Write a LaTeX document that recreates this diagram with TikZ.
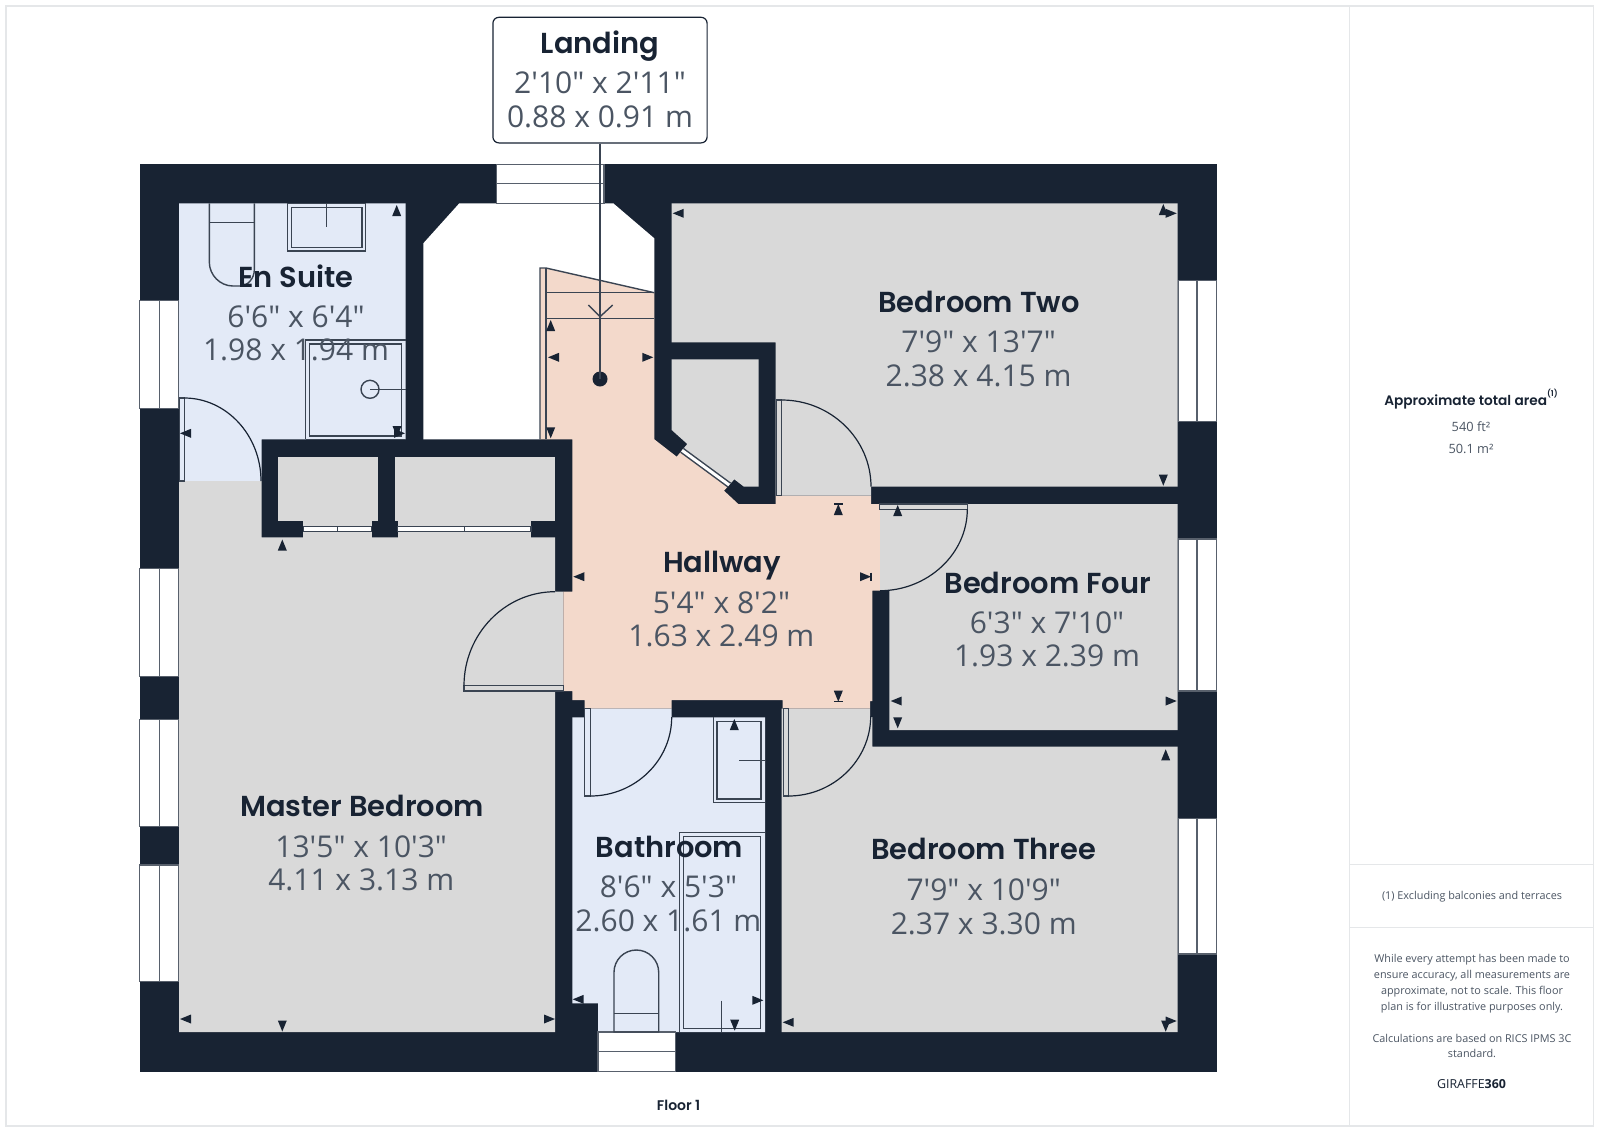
\documentclass[tikz,border=0pt]{standalone}
\usepackage{fontspec}
\newfontfamily\dimf{Open Sans}
\newfontfamily\titf{Poppins SemiBold}
\definecolor{wallc}{HTML}{182333}
\definecolor{greyf}{HTML}{D9D9D9}
\definecolor{bluef}{HTML}{E3EAF7}
\definecolor{peachf}{HTML}{F3D9CB}
\definecolor{linec}{HTML}{3A4452}
\definecolor{txtc}{HTML}{4B5563}
\definecolor{panelc}{HTML}{E5E7E9}
\newcommand\arU[2]{\fill[wallc] (#1,#2) -- ({#1-4.5},{#2+11}) -- ({#1+4.5},{#2+11}) -- cycle;}
\newcommand\arD[2]{\fill[wallc] (#1,#2) -- ({#1-4.5},{#2-11}) -- ({#1+4.5},{#2-11}) -- cycle;}
\newcommand\arL[2]{\fill[wallc] (#1,#2) -- ({#1+11},{#2-4.5}) -- ({#1+11},{#2+4.5}) -- cycle;}
\newcommand\arR[2]{\fill[wallc] (#1,#2) -- ({#1-11},{#2-4.5}) -- ({#1-11},{#2+4.5}) -- cycle;}
\tikzset{
  fix/.style={draw=linec,line width=.7pt},
  winbox/.style={fill=white,draw=linec!85,line width=.6pt},
  leaf/.style={fill=greyf,draw=linec,line width=.6pt},
  swing/.style={draw=wallc,line width=.6pt},
  titletxt/.style={font=\titf\fontsize{14.45}{16}\selectfont,text=wallc,inner sep=0pt,text height=10.6pt,text depth=0pt},
  dimtxt/.style={font=\dimf\fontsize{15}{16}\selectfont,text=txtc,inner sep=0pt,text height=11pt,text depth=0pt},
  smalltxt/.style={font=\dimf\fontsize{5.42}{7}\selectfont,text=txtc,inner sep=0pt,text height=4.2pt,text depth=0pt},
}
\begin{document}
\begin{tikzpicture}[x=0.5pt,y=-0.5pt]
\useasboundingbox (0,0) rectangle (1600,1131);
\fill[white] (0,0) rectangle (1600,1131);
% panel
\draw[panelc,line width=.6pt] (6,6) rectangle (1593.5,1126);
\draw[panelc,line width=.6pt] (1349.5,6) -- (1349.5,1126);
\draw[panelc,line width=.6pt] (1349.5,864.5) -- (1593.5,864.5);
\draw[panelc,line width=.6pt] (1349.5,927.5) -- (1593.5,927.5);
% building mass
\fill[wallc] (139.5,164) rectangle (1217,1072);
% floors
\fill[bluef] (179,203.3) -- (405.7,203.3) -- (405.7,439.3) -- (261.7,439.3) -- (261.7,481) -- (179,481) -- cycle;
\fill[greyf] (179,481) -- (261.7,481) -- (261.7,537.3) -- (555,537.3) -- (555,591.7) -- (563.3,591.7) -- (563.3,691) -- (555,691) -- (555,1032) -- (179,1032) -- cycle;
\fill[greyf] (278.3,456.7) rectangle (378.3,520.7);
\fill[greyf] (395,456.7) rectangle (555,520.7);
\fill[greyf] (303.3,520) rectangle (371.7,537.5);
\fill[greyf] (397.7,520) rectangle (531,537.5);
\fill[white] (423.3,243.3) -- (459.3,203.3) -- (613.3,203.3) -- (654.3,238.3) -- (654.3,292.7) -- (546,268) -- (540,268) -- (540,439.3) -- (423.3,439.3) -- cycle;
\fill[peachf] (540,268) -- (546,268) -- (654.3,292.7) -- (654.3,439.3) -- (676.7,456.7) -- (682,450.3) -- (729.2,485) -- (724,490.7) -- (738.3,504) -- (775.7,504) -- (775.7,495.7) -- (871,495.7) -- (871,504) -- (880,504) -- (880,590.7) -- (872.3,590.7) -- (872.3,701) -- (870,701) -- (870,708.7) -- (782.7,708.7) -- (782.7,700) -- (671.7,700) -- (671.7,708.7) -- (584.7,708.7) -- (584.7,700) -- (572.3,700) -- (572.3,691) -- (563.3,691) -- (563.3,591.7) -- (572.3,591.7) -- (572.3,439.3) -- (540,439.3) -- cycle;
\fill[greyf] (671.7,203.3) -- (1177.5,203.3) -- (1177.5,486.7) -- (871,486.7) -- (871,495.7) -- (775.7,495.7) -- (775.7,342.3) -- (671.7,342.3) -- cycle;
\fill[greyf] (671.7,359.3) -- (758.7,359.3) -- (758.7,486.7) -- (744,486.7) -- (734.3,479.3) -- (729.2,485) -- (682,450.3) -- (687.3,444) -- (671.7,430) -- cycle;
\fill[greyf] (880,504) -- (1177.5,504) -- (1177.5,730) -- (889.3,730) -- (889.3,590.7) -- (880,590.7) -- cycle;
\fill[greyf] (781.7,708.7) -- (870,708.7) -- (870,717) -- (872.3,717) -- (872.3,746.7) -- (1177.5,746.7) -- (1177.5,1032) -- (781.7,1032) -- cycle;
\fill[bluef] (572.3,717.3) -- (584.7,717.3) -- (584.7,708.7) -- (671.7,708.7) -- (671.7,717.3) -- (765,717.3) -- (765,1032) -- (598,1032) -- (598,1003.3) -- (572.3,1003.3) -- cycle;
% windows
\foreach \ya/\yb in {300.7/408.3,568.3/676.7,719.4/826.5,865/981.6}{
  \draw[winbox] (139.8,\ya) rectangle (178.7,\yb);
  \draw[linec!85,line width=.6pt] (159.3,\ya) -- (159.3,\yb);
}
\foreach \ya/\yb in {280.6/421.4,539/691,818.4/954}{
  \draw[winbox] (1178.3,\ya) rectangle (1216.5,\yb);
  \draw[linec!85,line width=.6pt] (1197,\ya) -- (1197,\yb);
}
\draw[winbox] (496.7,164.3) rectangle (604,203.3);
\draw[linec!85,line width=.6pt] (496.7,183.5) -- (604,183.5);
\draw[winbox] (598,1032) rectangle (675.3,1071.5);
\draw[linec!85,line width=.6pt] (598,1051.7) -- (675.3,1051.7);
% sliding doors and glazing
\draw[fill=white,draw=linec,line width=.6pt] (303.3,526.7) rectangle (371.7,531.5);
\draw[linec,line width=.6pt] (337.3,526.7) -- (337.3,531.5);
\draw[fill=white,draw=linec,line width=.6pt] (397.7,526.7) rectangle (531,531.5);
\draw[linec,line width=.6pt] (464.3,526.7) -- (464.3,531.5);
\draw[linec,line width=3pt] (682,450.3) -- (729.2,485);
\draw[white,line width=1.5pt] (682,450.3) -- (729.2,485);
% stairs
\draw[fix] (540,439.3) -- (540,268) -- (546,268) -- (654.3,292.7);
\draw[fix] (546,268) -- (546,439.3);
\draw[fix] (546,292.7) -- (654.3,292.7);
\draw[fix] (546,318.3) -- (654.3,318.3);
\draw[fix] (588.3,305) -- (600,316.7) -- (612.7,305);
% en suite fixtures
\draw[fix] (209.3,203.3) -- (209.3,262) .. controls (209.3,275) and (220,286) .. (233,286) -- (240,286) .. controls (248,286) and (254.3,278) .. (254.3,270) -- (254.3,203.3);
\draw[fix] (209.3,222.3) -- (254.3,222.3);
\draw[fix] (287.7,203.3) rectangle (365.7,251);
\draw[fix] (291.3,207.3) rectangle (362,247.7);
\draw[fix] (326.7,203.3) -- (326.7,227.3);
\draw[fix] (305.7,439.3) -- (305.7,340) -- (405.7,340);
\draw[fix] (405.7,439.3) -- (305.7,439.3);
\draw[fix] (309.3,344) rectangle (401.7,436);
\draw[fix] (370,389.3) circle (9);
\draw[fix] (370,389.3) -- (405.7,389.3);
% bathroom fixtures
\draw[fix] (713.3,717.3) -- (713.3,802.7) -- (765,802.7);
\draw[fix] (717,721.3) rectangle (761,799);
\draw[fix] (739,760.3) -- (765,760.3);
\draw[fix] (679.3,1032) -- (679.3,832.7) -- (765,832.7);
\draw[fix] (683.3,836.7) rectangle (760.7,1028.3);
\draw[fix] (721.7,1000.7) -- (721.7,1032);
\draw[fix] (614,1032) -- (614,972.3) .. controls (614,960) and (624,950) .. (636.3,950) .. controls (648.6,950) and (658.7,960) .. (658.7,972.3) -- (658.7,1032) -- cycle;
\draw[fix] (614,1013.3) -- (658.7,1013.3);
% doors
\draw[leaf,fill=bluef] (179.3,398) rectangle (184.3,481);
\draw[swing] (184.3,398) .. controls (226.5,398) and (261,435.4) .. (261,481);
\draw[leaf] (776.7,400) rectangle (781.7,495.7);
\draw[swing] (781.7,400) .. controls (830.8,400) and (871,439) .. (871,486.7);
\draw[leaf] (879.5,504) rectangle (967.3,509.3);
\draw[swing] (967.3,509.3) .. controls (967.3,554) and (927.5,590.7) .. (880,590.7);
\draw[leaf] (464,685.7) rectangle (563.3,691);
\draw[swing] (555,591.7) .. controls (505,591.7) and (464,634) .. (464,685.7);
\draw[leaf,fill=bluef] (584.7,708.7) rectangle (590.3,796);
\draw[swing] (590.3,796) .. controls (635,796) and (671.7,760.5) .. (671.7,717);
\draw[leaf] (783.3,708.7) rectangle (788.3,796);
\draw[swing] (788.3,796) .. controls (833.6,796) and (870.7,760) .. (870.7,716);
% measure ticks
\arU{396.7}{205}\arL{180}{433.3}\arR{405}{433.3}\arD{397}{437}
\arU{550.7}{320}\arL{548}{357.3}\arR{653.3}{357.3}\arD{550.7}{438.3}
\arL{573.3}{576.7}\arR{871}{576.7}\arU{838.3}{504}\arD{838.3}{701.7}
\draw[wallc,line width=.6pt] (871,572.5) -- (871,581) (834,504) -- (842.5,504) (834,701.7) -- (842.5,701.7);
\arU{282.3}{539.5}\arL{180}{1019}\arD{282.3}{1031.5}\arR{555}{1019}
\arU{734.3}{719}\arL{572.7}{999.3}\arR{763.3}{1000.3}\arD{734.7}{1030.7}
\arL{782.7}{1022.3}\arU{1165.7}{749.3}\arR{1176.7}{1021}\arD{1165.7}{1031.7}
\arL{890.7}{701}\arD{897.7}{728.3}\arU{897.7}{505}\arR{1176.7}{701}
\arL{672.7}{213.3}\arR{1176.7}{213.3}\arU{1163.3}{204}\arD{1163.3}{485.7}
% labels
\node[titletxt] (tEnSuite) at (296,276.5) {En Suite};
\node[dimtxt] (dEnSuiteA) at (296,316.3) {6'6" x 6'4"};
\node[dimtxt] (dEnSuiteB) at (296,349.8) {1.98 x 1.94 m};
\node[titletxt] (tBedTwo) at (979,302) {Bedroom Two};
\node[dimtxt] (dBedTwoA) at (978.6,341.8) {7'9" x 13'7"};
\node[dimtxt] (dBedTwoB) at (978.6,375.3) {2.38 x 4.15 m};
\node[titletxt] (tMaster) at (362,806) {Master Bedroom};
\node[dimtxt] (dMasterA) at (361.2,846) {13'5" x 10'3"};
\node[dimtxt] (dMasterB) at (361.2,879.4) {4.11 x 3.13 m};
\node[titletxt] (tHall) at (722,562.2) {Hallway};
\node[dimtxt] (dHallA) at (721.4,602) {5'4" x 8'2"};
\node[dimtxt] (dHallB) at (721.4,635.5) {1.63 x 2.49 m};
\node[titletxt] (tBedFour) at (1047.7,582.7) {Bedroom Four};
\node[dimtxt] (dBedFourA) at (1047,622.4) {6'3" x 7'10"};
\node[dimtxt] (dBedFourB) at (1047,655.8) {1.93 x 2.39 m};
\node[titletxt] (tBedThree) at (983.7,849) {Bedroom Three};
\node[dimtxt] (dBedThreeA) at (983.7,889.8) {7'9" x 10'9"};
\node[dimtxt] (dBedThreeB) at (983.7,923.3) {2.37 x 3.30 m};
\node[titletxt] (tBath) at (669.6,847) {Bathroom};
\node[dimtxt] (dBathA) at (668.4,886.7) {8'6" x 5'3"};
\node[dimtxt] (dBathB) at (668.4,920.2) {2.60 x 1.61 m};
% landing callout
\node[fill=white,draw=wallc,line width=.6pt,rounded corners=3pt,minimum width=107.1pt,minimum height=62.8pt,inner sep=0pt] (landing) at (600,80.1) {};
\fill[wallc] (600,379) circle (7.5);
\coordinate (landingDot) at (600,379);
\draw[linec,line width=.8pt] (landing.south) -- (landingDot);
\node[titletxt] (tLanding) at (600,42.9) {Landing};
\node[dimtxt] (dLandingA) at (600,82.7) {2'10" x 2'11"};
\node[dimtxt] (dLandingB) at (600,116.1) {0.88 x 0.91 m};
% footer and panel
\node[font=\titf\fontsize{7}{8}\selectfont,text=wallc,inner sep=0pt] (floorLabel) at (678.6,1105) {Floor 1};
\node[font=\titf\fontsize{6.85}{8}\selectfont,text=wallc,inner sep=0pt] (areaTitle) at (1471,399) {Approximate total area\raisebox{1.1ex}{\fontsize{4}{4}\selectfont(1)}};
\node[font=\dimf\fontsize{6.4}{8}\selectfont,text=txtc,inner sep=0pt] (areaFt) at (1471,426.7) {540 ft²};
\node[font=\dimf\fontsize{6.4}{8}\selectfont,text=txtc,inner sep=0pt] (areaM) at (1471,449.3) {50.1 m²};
\node[smalltxt] (noteOne) at (1472,895) {(1) Excluding balconies and terraces};
\node[smalltxt] (paraA) at (1472,958.5) {While every attempt has been made to};
\node[smalltxt] (paraB) at (1472,974.5) {ensure accuracy, all measurements are};
\node[smalltxt] (paraC) at (1472,990.1) {approximate, not to scale. This floor};
\node[smalltxt] (paraD) at (1472,1006.5) {plan is for illustrative purposes only.};
\node[smalltxt] (paraE) at (1472,1037.8) {Calculations are based on RICS IPMS 3C};
\node[smalltxt] (paraF) at (1472,1053.5) {standard.};
\node[font=\dimf\fontsize{6.2}{8}\selectfont,text=wallc,inner sep=0pt] (brand) at (1471.5,1084.5) {GIRAFFE\textbf{360}};
\end{tikzpicture}
\end{document}
